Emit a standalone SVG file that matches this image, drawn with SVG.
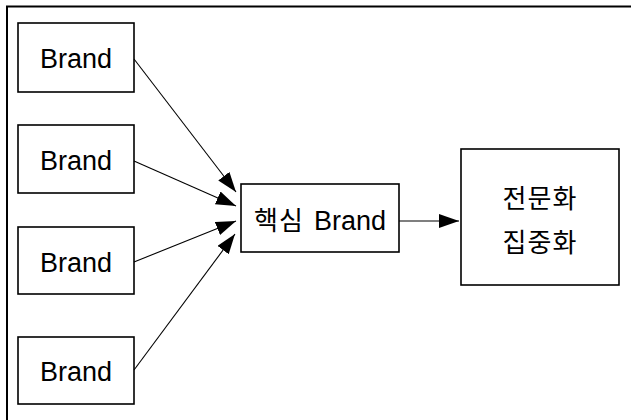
<svg xmlns="http://www.w3.org/2000/svg" width="631" height="420" viewBox="0 0 631 420">
<style>
.box{fill:#fff;stroke:#000;stroke-width:1.6}
.t{font-family:"Liberation Sans","Noto Sans CJK KR",sans-serif;font-size:27px;fill:#000;text-anchor:middle}
.k{font-family:"Noto Sans CJK KR","Liberation Sans",sans-serif;font-size:26px;fill:#000;text-anchor:middle}
.c{stroke:#000;stroke-width:1.1;fill:none;marker-end:url(#ah)}
</style>
<defs>
<marker id="ah" markerUnits="userSpaceOnUse" markerWidth="22" markerHeight="16" refX="20" refY="7" orient="auto">
<path d="M0,0 L20,7 L0,14 Z" fill="#000"/>
</marker>
</defs>
<rect width="631" height="420" fill="#fff"/>
<path d="M7,420 V6.5 H631" fill="none" stroke="#000" stroke-width="2"/>
<g id="brand1"><rect class="box" x="18" y="23" width="116" height="69"/><text class="t" x="76" y="68">Brand</text></g>
<g id="brand2"><rect class="box" x="18" y="125" width="116" height="68"/><text class="t" x="76" y="170">Brand</text></g>
<g id="brand3"><rect class="box" x="18" y="227" width="116" height="67"/><text class="t" x="76" y="272">Brand</text></g>
<g id="brand4"><rect class="box" x="18" y="337" width="116" height="67"/><text class="t" x="76" y="381">Brand</text></g>
<g id="core"><rect class="box" x="241" y="184" width="158" height="68"/><text class="t" x="320" y="230"><tspan font-family="Noto Sans CJK KR" font-size="26" letter-spacing="1">핵심</tspan><tspan dx="10">Brand</tspan></text></g>
<g id="result"><rect class="box" x="461" y="149" width="158" height="136"/><text class="k" x="540" y="208" letter-spacing="1">전문화</text><text class="k" x="540" y="252" letter-spacing="1">집중화</text></g>
<g id="connectors">
<line class="c" x1="134" y1="59" x2="236" y2="192"/>
<line class="c" x1="134" y1="161" x2="236" y2="206"/>
<line class="c" x1="134" y1="262" x2="236" y2="221"/>
<line class="c" x1="134" y1="370" x2="235" y2="234"/>
<line class="c" x1="399" y1="221" x2="459" y2="221"/>
</g>
</svg>
